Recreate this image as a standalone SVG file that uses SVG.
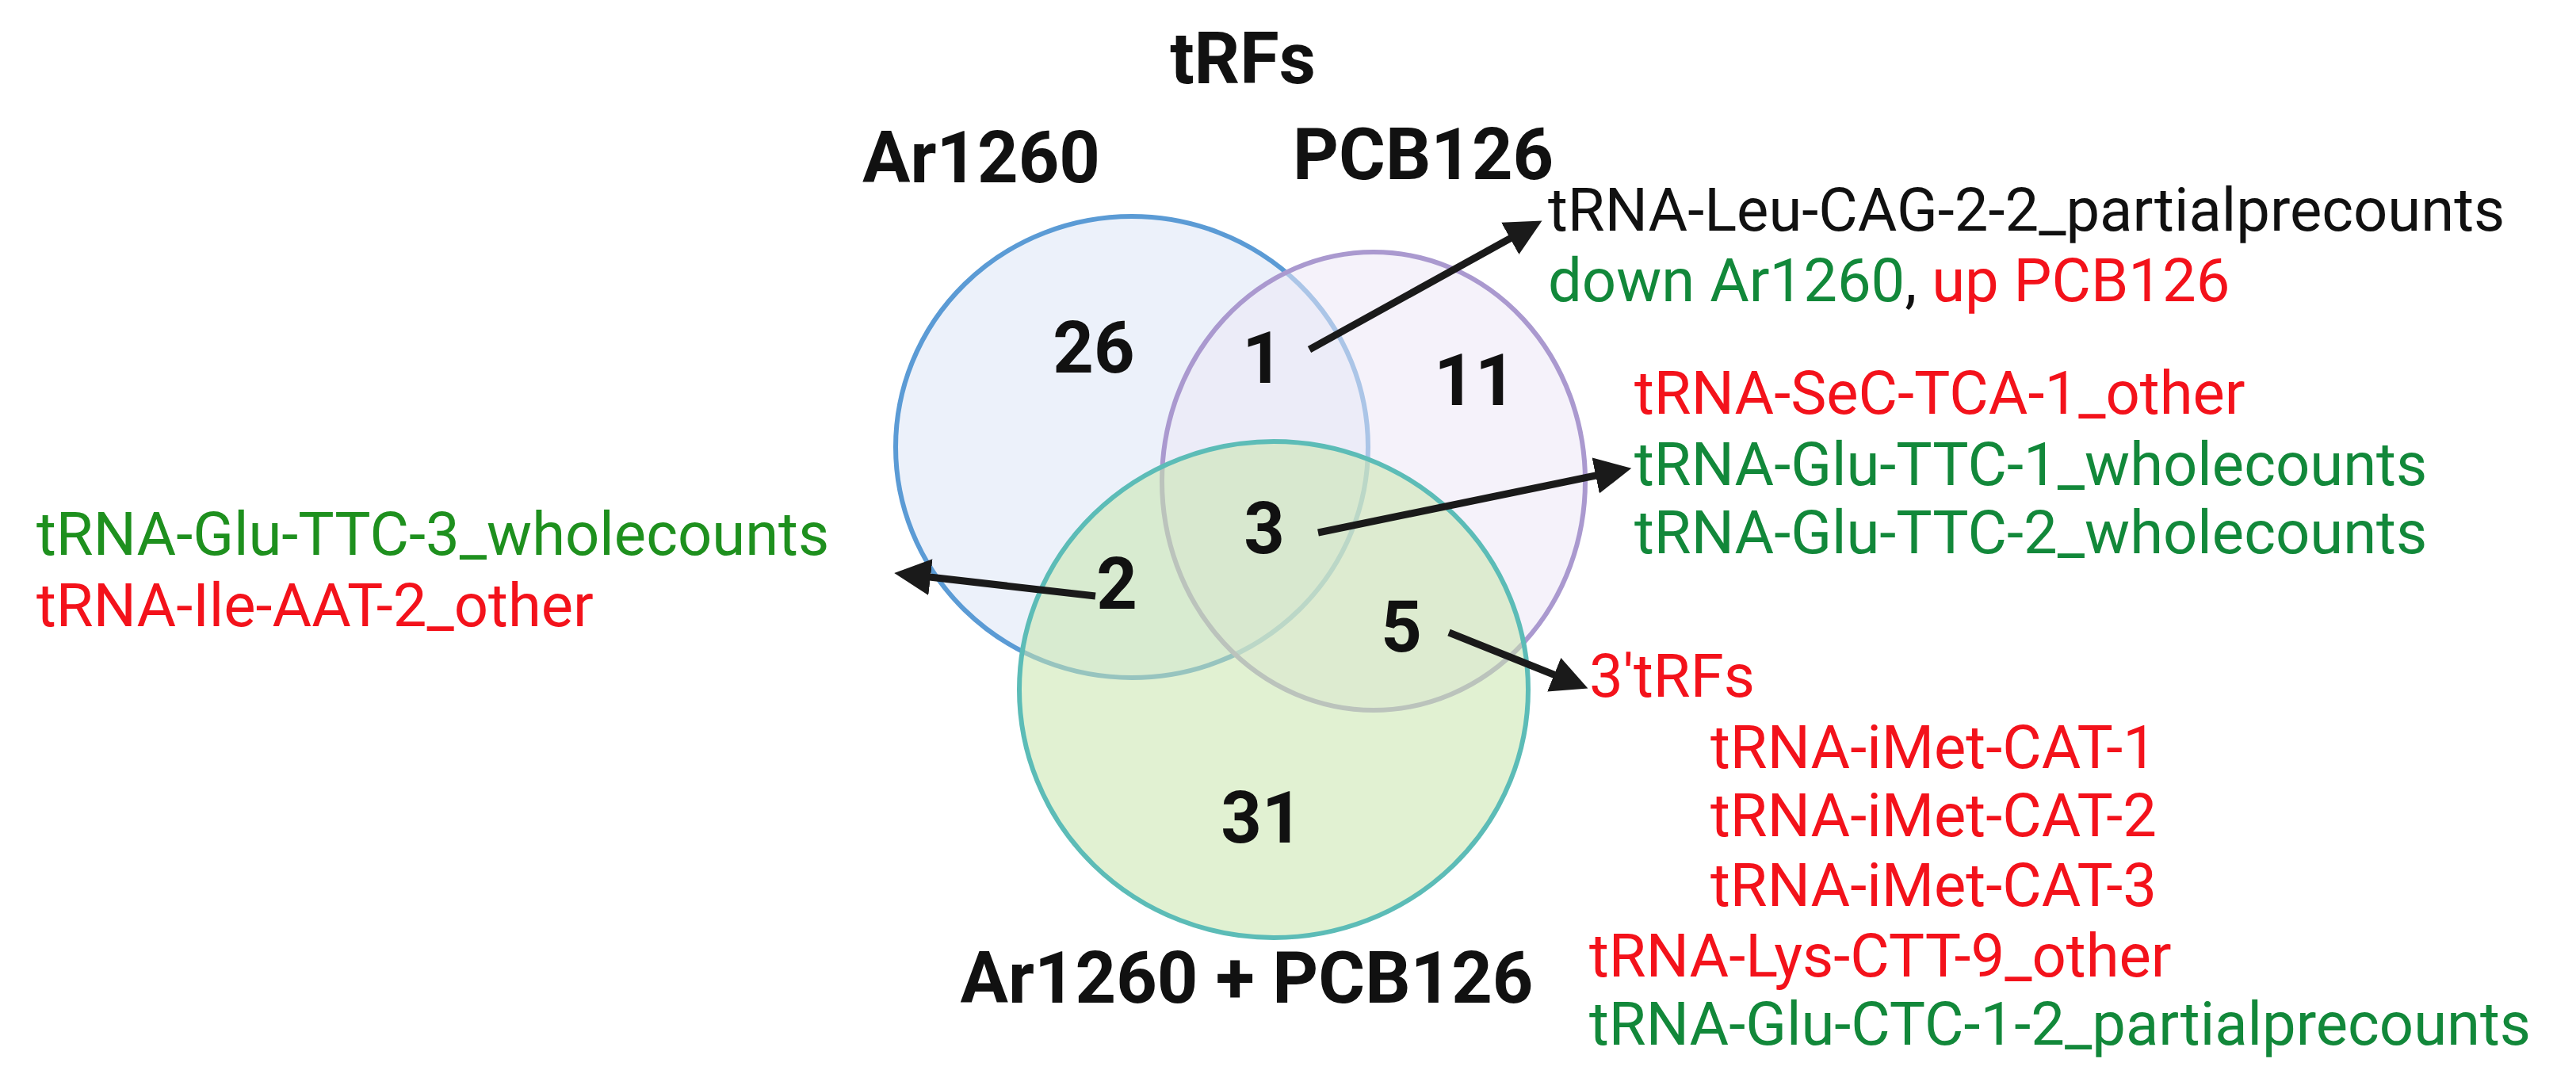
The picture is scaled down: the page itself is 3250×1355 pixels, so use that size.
<svg xmlns="http://www.w3.org/2000/svg" width="3250" height="1355" viewBox="0 0 3250 1355">
<style>
.b{font-family:Roboto,"Liberation Sans",sans-serif;font-weight:700;font-size:90px;fill:#111}
.n{text-anchor:middle}
.t{font-family:Roboto,"Liberation Sans",sans-serif;font-size:76px}
.g{fill:#12883a}
.gl{fill:#1e901e}
.r{fill:#f3121b}
.k{fill:#111}
.set{stroke-width:6}
.conn{stroke:#1a1a1a;stroke-width:9;fill:none;marker-end:url(#ah)}
</style>
<defs>
<marker id="ah" markerUnits="userSpaceOnUse" markerWidth="48" markerHeight="48" refX="10" refY="23" orient="auto">
<path d="M0,0 L46,23 L0,46 z" fill="#1a1a1a"/>
</marker>
</defs>
<rect width="3250" height="1355" fill="#ffffff"/>
<text id="title" class="b n" x="1568" y="105">tRFs</text>
<g id="set-ar1260">
<ellipse class="set" cx="1428" cy="564" rx="298" ry="291" fill="#dde5f6" fill-opacity="0.55" stroke="#5b9bd5"/>
<text class="b" x="1088" y="230">Ar1260</text>
</g>
<g id="set-pcb126">
<ellipse class="set" cx="1733" cy="607" rx="267" ry="289" fill="#ece8f5" fill-opacity="0.55" stroke="#aa99cf"/>
<text class="b" x="1631" y="226">PCB126</text>
</g>
<g id="set-both">
<ellipse class="set" cx="1607" cy="870" rx="321" ry="313" fill="#c8e6ad" fill-opacity="0.55" stroke="#5cbcb7"/>
<text class="b n" x="1573" y="1265">Ar1260 + PCB126</text>
</g>
<g id="counts">
<text class="b n" x="1380" y="470">26</text>
<text class="b n" x="1593" y="483">1</text>
<text class="b n" x="1861" y="511">11</text>
<text class="b n" x="1595" y="698">3</text>
<text class="b n" x="1409" y="768">2</text>
<text class="b n" x="1768" y="822">5</text>
<text class="b n" x="1592" y="1063">31</text>
</g>
<g id="connectors">
<line class="conn" x1="1652" y1="441" x2="1914" y2="296"/>
<line class="conn" x1="1663" y1="672" x2="2023" y2="598"/>
<line class="conn" x1="1382" y1="752" x2="1164" y2="727"/>
<line class="conn" x1="1828" y1="798" x2="1970" y2="855"/>
</g>
<g id="note-1">
<text class="t k" x="1953" y="291">tRNA-Leu-CAG-2-2_partialprecounts</text>
<text class="t" x="1953" y="380"><tspan class="g">down Ar1260</tspan><tspan class="k">, </tspan><tspan class="r">up PCB126</tspan></text>
</g>
<g id="note-3">
<text class="t r" x="2062" y="522">tRNA-SeC-TCA-1_other</text>
<text class="t g" x="2062" y="612">tRNA-Glu-TTC-1_wholecounts</text>
<text class="t g" x="2062" y="698">tRNA-Glu-TTC-2_wholecounts</text>
</g>
<g id="note-2">
<text class="t gl" x="46" y="700">tRNA-Glu-TTC-3_wholecounts</text>
<text class="t r" x="46" y="790">tRNA-Ile-AAT-2_other</text>
</g>
<g id="note-5">
<text class="t r" x="2005" y="879">3'tRFs</text>
<text class="t r" x="2158" y="969">tRNA-iMet-CAT-1</text>
<text class="t r" x="2158" y="1055">tRNA-iMet-CAT-2</text>
<text class="t r" x="2158" y="1143">tRNA-iMet-CAT-3</text>
<text class="t r" x="2005" y="1232">tRNA-Lys-CTT-9_other</text>
<text class="t g" x="2005" y="1318">tRNA-Glu-CTC-1-2_partialprecounts</text>
</g>
</svg>
